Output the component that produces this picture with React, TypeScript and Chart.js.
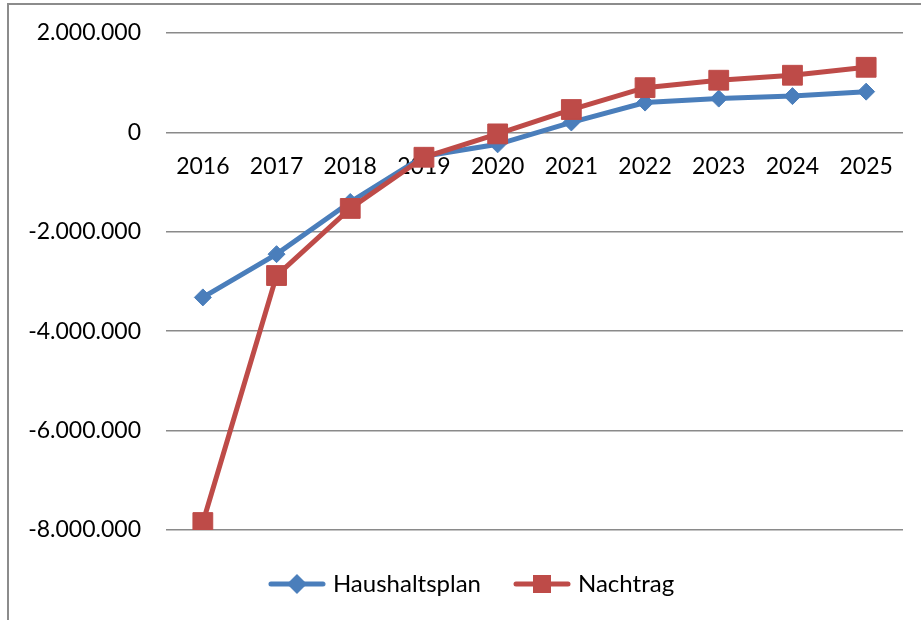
import React, { useEffect, useRef } from 'react';
import { Chart, registerables } from 'chart.js';

Chart.register(...registerables);

const categories = ['2016', '2017', '2018', '2019', '2020', '2021', '2022', '2023', '2024', '2025'];
const haushaltsplan = [-3320000, -2450000, -1400000, -480000, -240000, 200000, 600000, 680000, 730000, 820000];
const nachtrag = [-7850000, -2880000, -1530000, -500000, -30000, 460000, 900000, 1050000, 1150000, 1310000];
const yTicks = [-8000000, -6000000, -4000000, -2000000, 0, 2000000];
const seriesNames = ['Haushaltsplan', 'Nachtrag'];

const BLUE = '#4A7EBB';
const RED = '#BE4B48';
const FONT = 'Lato';

function fmt(v: number): string {
  const s = Math.round(Math.abs(v)).toString().replace(/\B(?=(\d{3})+(?!\d))/g, '.');
  return (v < 0 ? '-' : '') + s;
}

function legendIcon(color: string, style: 'diamond' | 'square'): HTMLCanvasElement {
  const c = document.createElement('canvas');
  c.width = 58;
  c.height = 28;
  const ctx = c.getContext('2d')!;
  ctx.strokeStyle = color;
  ctx.lineWidth = 5;
  ctx.lineCap = 'round';
  ctx.beginPath();
  ctx.moveTo(3, 14);
  ctx.lineTo(55, 14);
  ctx.stroke();
  ctx.fillStyle = color;
  ctx.beginPath();
  if (style === 'diamond') {
    const r = 10;
    ctx.moveTo(29, 14 - r);
    ctx.lineTo(29 + r, 14);
    ctx.lineTo(29, 14 + r);
    ctx.lineTo(29 - r, 14);
    ctx.closePath();
  } else {
    ctx.rect(20, 5, 18, 18);
  }
  ctx.fill();
  return c;
}

const legendShift = {
  id: 'legendShift',
  afterLayout(chart: any) {
    if (chart.legend) {
      chart.legend.left += 18;
      chart.legend.right += 18;
    }
  },
};

export default function App() {
  const ref = useRef<HTMLCanvasElement>(null);

  useEffect(() => {
    if (!ref.current) return;
    const icons = [legendIcon(BLUE, 'diamond'), legendIcon(RED, 'square')];
    const chart = new Chart(ref.current, {
      type: 'line',
      data: {
        labels: categories,
        datasets: [
          {
            label: seriesNames[0],
            data: haushaltsplan,
            borderColor: BLUE,
            backgroundColor: BLUE,
            borderWidth: 5,
            pointStyle: 'rectRot',
            pointRadius: 8.5,
            pointBorderWidth: 1,
            pointBackgroundColor: BLUE,
            pointBorderColor: BLUE,
            order: 2,
            tension: 0,
          },
          {
            label: seriesNames[1],
            data: nachtrag,
            borderColor: RED,
            backgroundColor: RED,
            borderWidth: 5,
            pointStyle: 'rect',
            pointRadius: 14,
            pointBorderWidth: 1,
            pointBackgroundColor: RED,
            pointBorderColor: RED,
            order: 1,
            tension: 0,
          },
        ],
      },
      plugins: [legendShift],
      options: {
        responsive: false,
        animation: false,
        layout: { padding: { left: 8, right: 18, top: 33, bottom: 14 } },
        scales: {
          x: {
            type: 'category',
            offset: true,
            position: { y: 0 } as any,
            grid: { display: false, drawTicks: false },
            border: { display: false },
            ticks: {
              padding: 20,
              color: '#000',
              font: { family: FONT, size: 23 },
              maxRotation: 0,
              autoSkip: false,
            },
          },
          y: {
            min: yTicks[0],
            max: yTicks[yTicks.length - 1],
            ticks: {
              stepSize: yTicks[1] - yTicks[0],
              padding: 25,
              color: '#000',
              font: { family: FONT, size: 23 },
              callback: (v: any) => fmt(Number(v)),
            },
            grid: { color: '#8a8a8a', lineWidth: 1.5, drawTicks: false },
            border: { display: false },
            afterFit: (s: any) => {
              s.width = 158;
              s.paddingTop = 12;
              s.paddingBottom = 12;
            },
          },
        },
        plugins: {
          tooltip: { enabled: false },
          legend: {
            position: 'bottom',
            title: { display: true, text: '', font: { size: 5, lineHeight: 1 }, padding: 0 },
            labels: {
              usePointStyle: true,
              pointStyleWidth: 48,
              padding: 37,
              color: '#000',
              font: { family: FONT, size: 24 },
              sort: (a: any, b: any) => a.datasetIndex - b.datasetIndex,
              generateLabels: (ch: any) => {
                const items = Chart.defaults.plugins.legend.labels.generateLabels(ch);
                items.forEach((it: any) => {
                  it.pointStyle = icons[it.datasetIndex];
                  it.lineWidth = 0;
                });
                return items;
              },
            },
          },
        },
      },
    });
    return () => chart.destroy();
  }, []);

  return (
    <div style={{ position: 'fixed', left: 0, top: 0, width: 921, height: 620, background: '#fff' }}>
      <canvas ref={ref} width={921} height={620} style={{ display: 'block' }} />
      <div
        style={{
          position: 'absolute',
          left: 7,
          top: 3,
          width: 930,
          height: 640,
          borderLeft: '2px solid #8c8c8c',
          borderTop: '2px solid #8c8c8c',
          pointerEvents: 'none',
        }}
      />
    </div>
  );
}
